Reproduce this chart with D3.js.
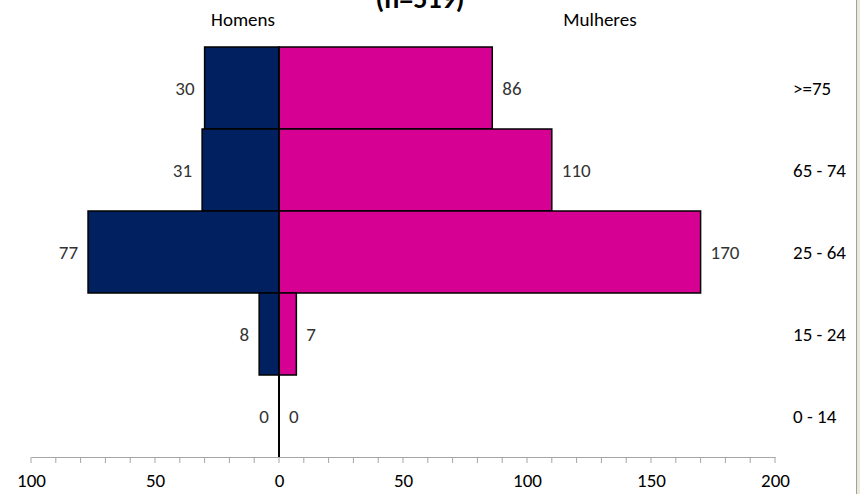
<!DOCTYPE html>
<html>
<head>
<meta charset="utf-8">
<script src="https://cdn.jsdelivr.net/npm/d3@7"></script>
<style>
  body { margin: 0; background: #fff; }
  svg { display: block; font-family: Calibri, Carlito, Lato, "Open Sans", sans-serif; }
</style>
</head>
<body>
<svg id="pyramid" width="860" height="494"></svg>
<script>
// age groups, top to bottom
var ageGroups = [">=75", "65 - 74", "25 - 64", "15 - 24", "0 - 14"];
var homens   = [30, 31, 77, 8, 0];
var mulheres = [86, 110, 170, 7, 0];
var xTicks = [-100, -50, 0, 50, 100, 150, 200];

var svg = d3.select("#pyramid");
var width = 860, height = 494;
var fs = 19;

var x = d3.scaleLinear().domain([-100, 200]).range([31, 775]);
var y = d3.scaleBand().domain(ageGroups).range([47, 457]).padding(0);

var rows = ageGroups.map(function(g, i) {
  return { group: g, h: homens[i], m: mulheres[i] };
});

// window edge on the right
svg.append("rect").attr("x", 857).attr("y", 0).attr("width", 3).attr("height", height).attr("fill", "#ece9d8");
svg.append("line").attr("x1", 856.5).attr("x2", 856.5).attr("y1", 0).attr("y2", height)
  .attr("stroke", "#a0a0a0").attr("stroke-width", 1);

// title (partly cut off at the top, as in the original)
svg.append("text")
  .attr("x", 420).attr("y", 8)
  .attr("text-anchor", "middle")
  .attr("font-size", 28).attr("font-weight", "bold")
  .attr("fill", "#000")
  .text("(n=519)");

svg.append("text").attr("x", 243).attr("y", 26).attr("text-anchor", "middle")
  .attr("font-size", fs).attr("fill", "#000").text("Homens");
svg.append("text").attr("x", 600).attr("y", 26).attr("text-anchor", "middle")
  .attr("font-size", fs).attr("fill", "#000").text("Mulheres");

// bars
svg.selectAll("rect.homens")
  .data(rows).enter().append("rect")
  .attr("class", "homens")
  .attr("x", function(d) { return x(-d.h); })
  .attr("y", function(d) { return y(d.group); })
  .attr("width", function(d) { return x(0) - x(-d.h); })
  .attr("height", y.bandwidth())
  .attr("fill", "#002060")
  .attr("stroke", "#000").attr("stroke-width", 1.5)
  .style("display", function(d) { return d.h > 0 ? null : "none"; });

svg.selectAll("rect.mulheres")
  .data(rows).enter().append("rect")
  .attr("class", "mulheres")
  .attr("x", x(0))
  .attr("y", function(d) { return y(d.group); })
  .attr("width", function(d) { return x(d.m) - x(0); })
  .attr("height", y.bandwidth())
  .attr("fill", "#d60093")
  .attr("stroke", "#000").attr("stroke-width", 1.5)
  .style("display", function(d) { return d.m > 0 ? null : "none"; });

// vertical axis at zero
svg.append("line")
  .attr("x1", x(0)).attr("x2", x(0))
  .attr("y1", y.range()[0]).attr("y2", y.range()[1])
  .attr("stroke", "#000").attr("stroke-width", 2);

// value labels
svg.selectAll("text.lblH")
  .data(rows).enter().append("text")
  .attr("class", "lblH")
  .attr("x", function(d) { return x(-d.h) - 10; })
  .attr("y", function(d) { return y(d.group) + y.bandwidth() / 2; })
  .attr("dy", "0.35em")
  .attr("text-anchor", "end")
  .attr("font-size", fs).attr("fill", "#333")
  .text(function(d) { return d.h; });

svg.selectAll("text.lblM")
  .data(rows).enter().append("text")
  .attr("class", "lblM")
  .attr("x", function(d) { return x(d.m) + 10; })
  .attr("y", function(d) { return y(d.group) + y.bandwidth() / 2; })
  .attr("dy", "0.35em")
  .attr("text-anchor", "start")
  .attr("font-size", fs).attr("fill", "#333")
  .text(function(d) { return d.m; });

// age group labels on the right
svg.selectAll("text.age")
  .data(ageGroups).enter().append("text")
  .attr("class", "age")
  .attr("x", 793)
  .attr("y", function(g) { return y(g) + y.bandwidth() / 2; })
  .attr("dy", "0.35em")
  .attr("font-size", fs).attr("fill", "#000")
  .text(function(g) { return g; });

// horizontal axis
var xAxis = d3.axisBottom(x)
  .tickValues(xTicks)
  .tickFormat(function(v) { return Math.abs(v); })
  .tickSize(0)
  .tickPadding(17);

var gx = svg.append("g")
  .attr("transform", "translate(0," + y.range()[1] + ")")
  .call(xAxis);
gx.select(".domain").attr("stroke", "#a6a6a6").attr("stroke-width", 1.2);
gx.selectAll("text").attr("font-size", fs).attr("fill", "#000")
  .attr("font-family", "Calibri, Carlito, Lato, 'Open Sans', sans-serif");

gx.selectAll("line.minor")
  .data(d3.range(-100, 201, 10)).enter().append("line")
  .attr("class", "minor")
  .attr("x1", function(v) { return x(v); }).attr("x2", function(v) { return x(v); })
  .attr("y1", 0).attr("y2", 6)
  .attr("stroke", "#a6a6a6").attr("stroke-width", 1);
</script>
</body>
</html>
